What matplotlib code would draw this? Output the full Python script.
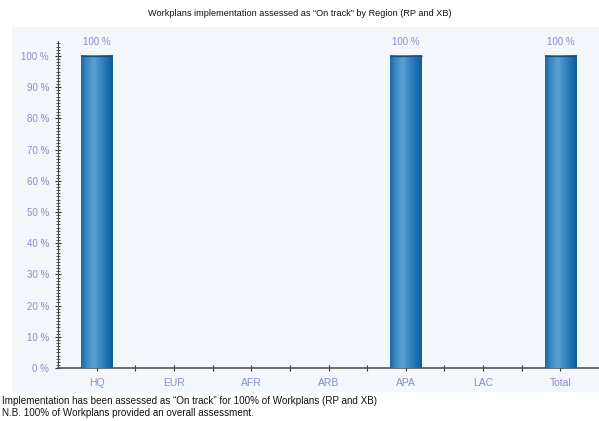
import numpy as np
import matplotlib.pyplot as plt
from matplotlib.colors import LinearSegmentedColormap
from matplotlib.patches import Rectangle
from matplotlib.ticker import MultipleLocator, FixedLocator

regions = ["HQ", "EUR", "AFR", "ARB", "APA", "LAC", "Total"]
on_track = [100, 0, 0, 0, 100, 0, 100]

title = "Workplans implementation assessed as \u201cOn track\u201d by Region (RP and XB)"
note1 = "Implementation has been assessed as \u201cOn track\u201d for 100% of Workplans (RP and XB)"
note2 = "N.B. 100% of Workplans provided an overall assessment."

plt.rcParams['font.family'] = ['Liberation Sans', 'DejaVu Sans']
label_col = "#8a8fc8"

fig = plt.figure(figsize=(5.99, 4.21), dpi=100)

# light panel behind the chart
fig.patches.append(Rectangle((12 / 599, 1 - 392 / 421), 587 / 599, 365 / 421,
                             transform=fig.transFigure, facecolor="#f3f6fa",
                             edgecolor="none", zorder=-5))

ax = fig.add_axes([58 / 599, 1 - 368 / 421, 1 - 58 / 599, (368 - 41) / 421])
ax.set_facecolor("none")

x = np.arange(len(regions))
width = 0.41
bars = ax.bar(x, on_track, width=width, color="#1a6fae", zorder=2)

# cylinder-like shading on each bar
shade = LinearSegmentedColormap.from_list(
    "shade", ["#1d68a6", "#3f8cc6", "#5aa2d4", "#3a88c4", "#1f72b2", "#125e9c"])
grad = np.linspace(0, 1, 64).reshape(1, -1)
for xi, v in zip(x, on_track):
    if v > 0:
        ax.imshow(grad, cmap=shade, aspect="auto", zorder=3,
                  extent=(xi - width / 2, xi + width / 2, 0, v))
        ax.plot([xi - width / 2, xi + width / 2], [v, v], color="#15507f",
                lw=1.0, zorder=4, solid_capstyle="butt")
        ax.text(xi, v + 3, f"{v} %", ha="center", va="bottom",
                fontsize=7, color=label_col)

ax.set_xlim(-0.5, len(regions) - 0.5)
ax.set_ylim(0, 104.8)

ax.set_yticks(np.arange(0, 101, 10))
ax.set_yticklabels([f"{t} %" for t in range(0, 101, 10)])
ax.yaxis.set_minor_locator(MultipleLocator(1))
ax.set_xticks(x)
ax.set_xticklabels(regions)
ax.xaxis.set_minor_locator(FixedLocator(x[:-1] + 0.5))

ax.tick_params(axis="y", which="major", direction="inout", length=5, width=0.8,
               color="#333333", labelsize=7, labelcolor=label_col, pad=4)
ax.tick_params(axis="y", which="minor", direction="inout", length=3, width=0.6,
               color="#333333")
ax.tick_params(axis="x", which="major", direction="inout", length=4, width=0.8,
               color="#333333", labelsize=7.5, labelcolor=label_col, pad=5)
ax.tick_params(axis="x", which="minor", direction="inout", length=4, width=0.8,
               color="#333333")

for s in ["top", "right"]:
    ax.spines[s].set_visible(False)
ax.spines["left"].set_color("#444444")
ax.spines["bottom"].set_color("#555555")
ax.spines["bottom"].set_linewidth(1.2)

fig.text(0.5, 1 - 13 / 421, title, ha="center", va="center", fontsize=6.6, color="#111111")
fig.text(2 / 599, 1 - 401 / 421, note1, ha="left", va="center", fontsize=7.15, color="#111111")
fig.text(2 / 599, 1 - 413 / 421, note2, ha="left", va="center", fontsize=7.15, color="#111111")

fig.savefig("out.png", dpi=100)
